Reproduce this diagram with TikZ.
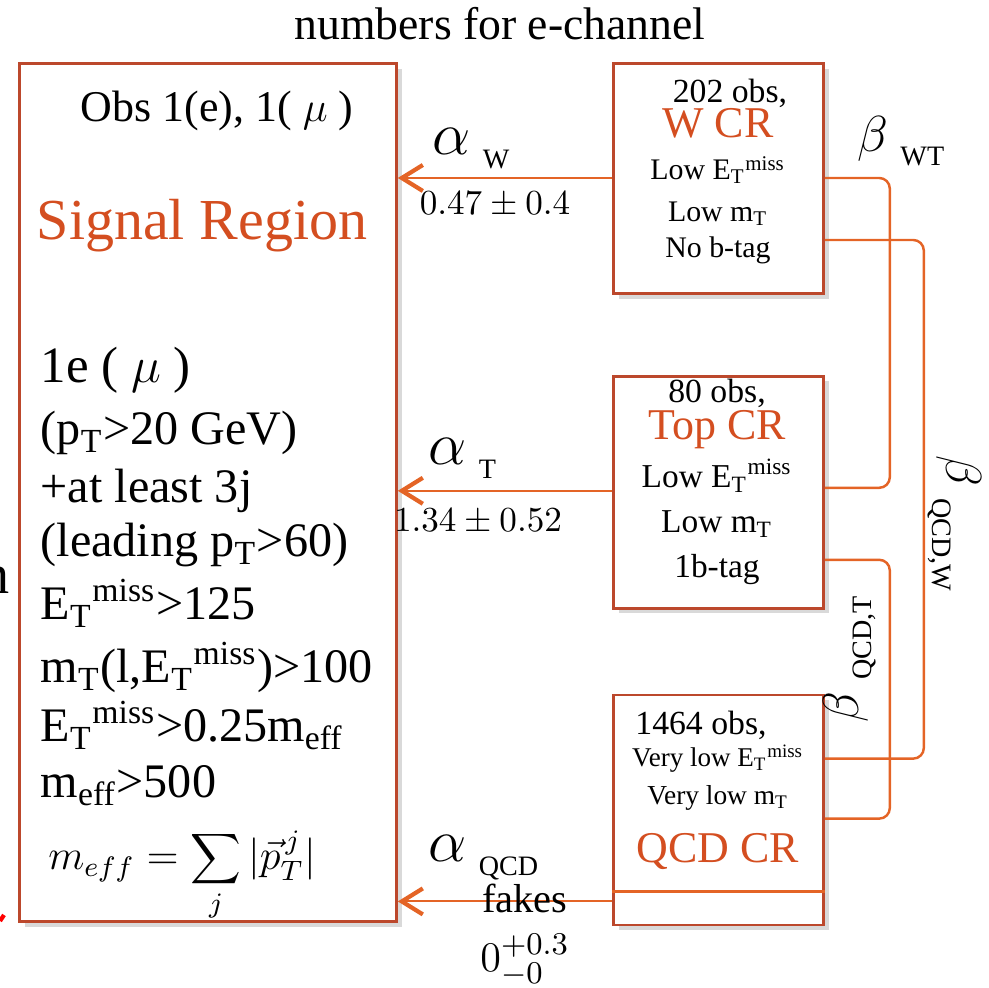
\documentclass[tikz,border=0pt]{standalone}
\usepackage[no-math]{fontspec}
\setmainfont{Liberation Serif}
\usetikzlibrary{arrows.meta,positioning,shadows}

\definecolor{boxred}{RGB}{188,72,44}
\definecolor{linkorange}{RGB}{228,100,38}
\definecolor{crorange}{RGB}{212,78,32}

\newcommand{\etmiss}{E\textsubscript{T}\textsuperscript{miss}}
\newcommand{\mtr}{m\textsubscript{T}}
\newcommand{\meff}{m\textsubscript{eff}}
\newcommand{\pts}[1]{\fontsize{#1}{#1}\selectfont}
\newcommand{\coef}[3]{{\pts{#1}$#2$}\hspace{0.12cm}\raisebox{-0.14cm}{\pts{8}#3}}

\begin{document}
\begin{tikzpicture}[
  every node/.style={inner sep=0pt},
  region/.style={draw=boxred, line width=0.8pt, fill=white,
    drop shadow={shadow xshift=1.5pt, shadow yshift=-1.5pt, opacity=0.3}},
  crbox/.style={region, minimum width=2.10cm, minimum height=2.30cm},
  crname/.style={text=crorange, font=\pts{12.5}},
  cut/.style={anchor=base west, font=\pts{13.7}},
  flow/.style={draw=linkorange, line width=0.6pt,
    -{Straight Barb[length=2.1mm,width=2.6mm,line width=1.2pt]}},
  link/.style={draw=linkorange, line width=0.7pt, rounded corners=3pt}
]
\useasboundingbox (0,0) rectangle (9.89,-9.88);
\clip (0,0) rectangle (9.89,-9.88);

% title
\node[anchor=base, font=\pts{13}] (title) at (5.00,-0.40) {numbers for e-channel};

% regions
\node[region, anchor=north west, minimum width=3.77cm, minimum height=8.58cm] (sr) at (0.18,-0.62) {};
\node[crbox, anchor=north west] (wcr) at (6.12,-0.62) {};
\node[crbox, below=0.80cm of wcr, minimum height=2.32cm] (tcr) {};
\node[crbox, below=0.84cm of tcr] (qcr) {};
\draw[linkorange, line width=0.8pt] ([yshift=0.35cm]qcr.south west) -- ([yshift=0.35cm]qcr.south east);

% signal region
\node[anchor=base, font=\pts{12.5}] (obs) at (2.17,-1.22) {Obs 1(e), 1( $\mu$ )};
\node[anchor=base, text=crorange, font=\pts{16.5}] (srname) at (2.02,-2.40) {Signal Region};
\node[cut, font=\pts{14.5}] (c1) at (0.40,-3.83) {1e ( $\mu$ )};
\node[cut] (c2) at (0.40,-4.45) {(p\textsubscript{T}>20 GeV)};
\node[cut] (c3) at (0.40,-5.03) {+at least 3j};
\node[cut] (c4) at (0.40,-5.57) {(leading p\textsubscript{T}>60)};
\node[cut] (c5) at (0.40,-6.20) {\etmiss>125};
\node[cut] (c6) at (0.40,-6.83) {\mtr(l,\etmiss)>100};
\node[cut] (c7) at (0.40,-7.42) {\etmiss>0.25\meff};
\node[cut] (c8) at (0.40,-7.98) {\meff>500};
\node[anchor=base, font=\pts{11.5}] (meffdef) at (1.82,-8.70) {$\displaystyle m_{eff} = \sum_j |\vec{p}_T^{\,j}|$};

% W CR
\node[anchor=base, font=\pts{9.6}] (wobs) at (7.30,-1.03) {202 obs,};
\node[anchor=base, crname] (wname) at (7.18,-1.38) {W CR};
\node[anchor=base, font=\pts{8.5}] (w1) at (7.18,-1.80) {Low \etmiss};
\node[anchor=base, font=\pts{8.5}] (w2) at (7.18,-2.22) {Low \mtr};
\node[anchor=base, font=\pts{8.5}] (w3) at (7.18,-2.58) {No b-tag};

% Top CR
\node[anchor=base, font=\pts{9.6}] (tobs) at (7.17,-4.03) {80 obs,};
\node[anchor=base, crname] (tname) at (7.17,-4.40) {Top CR};
\node[anchor=base, font=\pts{9.5}] (t1) at (7.17,-4.88) {Low \etmiss};
\node[anchor=base, font=\pts{9.5}] (t2) at (7.17,-5.33) {Low \mtr};
\node[anchor=base, font=\pts{9.5}] (t3) at (7.17,-5.78) {1b-tag};

% QCD CR
\node[anchor=base, font=\pts{9.6}] (qobs) at (7.01,-7.35) {1464 obs,};
\node[anchor=base, font=\pts{7.7}] (q1) at (7.18,-7.67) {Very low \etmiss};
\node[anchor=base, font=\pts{7.8}] (q2) at (7.18,-8.05) {Very low \mtr};
\node[anchor=base, crname] (qname) at (7.18,-8.63) {QCD CR};

% transfer arrows to the signal region
\coordinate (wport) at ([yshift=-1.16cm]wcr.north west);
\coordinate (tport) at ([yshift=-1.16cm]tcr.north west);
\coordinate (qport) at ([yshift=0.25cm]qcr.south west);
\draw[flow] (wport) -- (wport -| sr.east);
\draw[flow] (tport) -- (tport -| sr.east);
\draw[flow] (qport) -- (qport -| sr.east);

\node[anchor=base west] (aw) at (4.32,-1.55) {\coef{16}{\alpha}{W}};
\node[anchor=base, font=\pts{10}] (wval) at (4.95,-2.15) {$0.47 \pm 0.4$};
\node[anchor=base west] (at) at (4.28,-4.65) {\coef{16}{\alpha}{T}};
\node[anchor=base, font=\pts{10}] (tval) at (4.78,-5.32) {$1.34 \pm 0.52$};
\node[anchor=base west] (aq) at (4.28,-8.62) {\coef{16}{\alpha}{QCD}};
\node[anchor=base, font=\pts{11.5}] (fakes) at (5.25,-9.13) {fakes};
\node[anchor=base, font=\pts{13}] (qval) at (5.25,-9.72) {$0^{+0.3}_{-0}$};

% links between control regions
\coordinate (wout1) at ([yshift=-1.16cm]wcr.north east);
\coordinate (wout2) at ([yshift=-1.78cm]wcr.north east);
\coordinate (tin) at ([yshift=-1.13cm]tcr.north east);
\coordinate (tout) at ([yshift=-1.85cm]tcr.north east);
\coordinate (qin1) at ([yshift=-0.65cm]qcr.north east);
\coordinate (qin2) at ([yshift=-1.25cm]qcr.north east);
\draw[link] (wout1) -| ([xshift=0.65cm]tin) -- (tin);
\draw[link] (wout2) -| ([xshift=0.99cm]qin1) -- (qin1);
\draw[link] (tout) -| ([xshift=0.65cm]qin2) -- (qin2);

\node[anchor=base west] (bwt) at (8.57,-1.52) {\coef{15}{\beta}{WT}};
\node[rotate=-90, anchor=base west] (bqw) at (9.46,-4.55) {\coef{15}{\beta}{QCD,W}};
\node[rotate=90, anchor=base west] (bqt) at (8.58,-7.23) {\coef{15}{\beta}{QCD,T}};

% cut-off marks at the left edge
\node[anchor=base east, font=\pts{16}] (edge) at (0.10,-5.94) {n};
\draw[red, line width=1.2pt] (0,-9.21) -- (0.04,-9.15);
\end{tikzpicture}
\end{document}
